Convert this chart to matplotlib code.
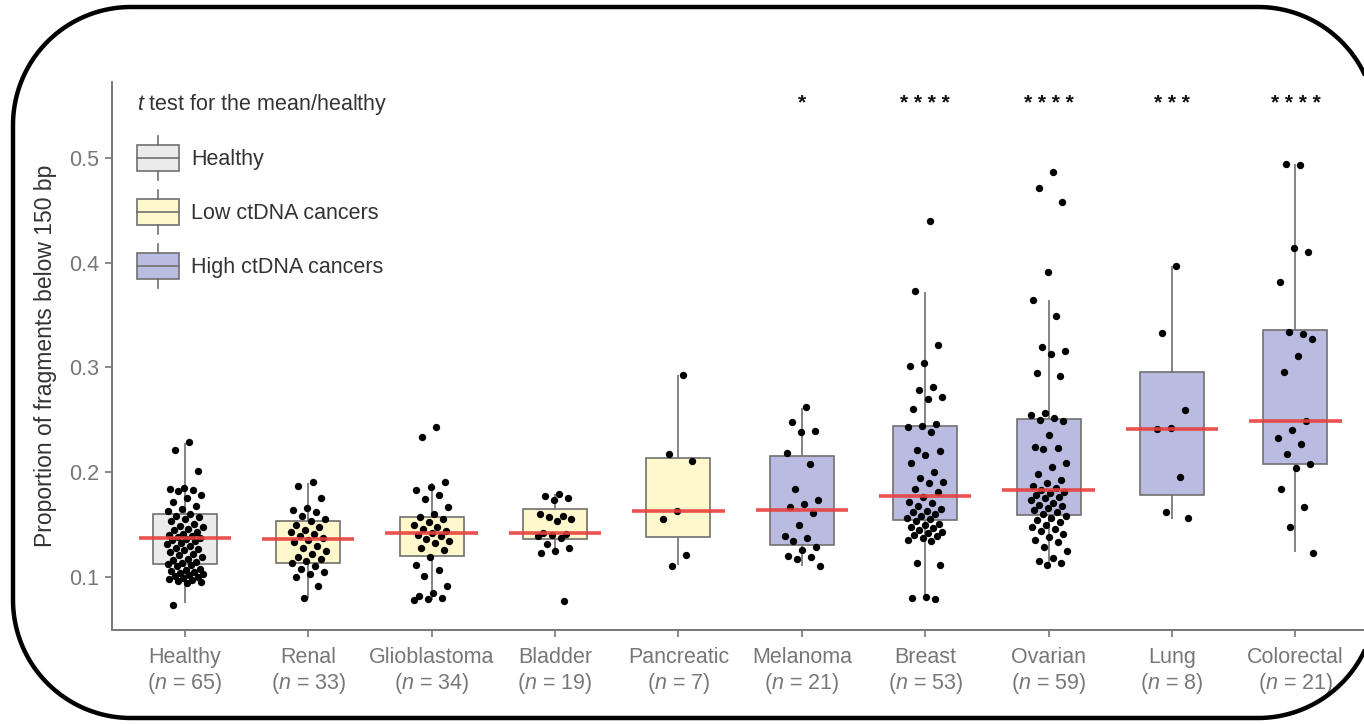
import numpy as np
import matplotlib
matplotlib.use("Agg")
import matplotlib.pyplot as plt
from matplotlib.patches import Rectangle, Polygon
from matplotlib.lines import Line2D
from matplotlib.legend_handler import HandlerBase

plt.rcParams['font.family'] = ['Liberation Sans', 'DejaVu Sans']
plt.rcParams['mathtext.fontset'] = 'custom'
plt.rcParams['mathtext.rm'] = 'Liberation Sans'
plt.rcParams['mathtext.it'] = 'Liberation Sans:italic'

# groups, sample sizes and class (healthy / low / high ctDNA)
names = ["Healthy", "Renal", "Glioblastoma", "Bladder", "Pancreatic",
         "Melanoma", "Breast", "Ovarian", "Lung", "Colorectal"]
n_samples = [65, 33, 34, 19, 7, 21, 53, 59, 8, 21]
group_kind = ["healthy", "low", "low", "low", "low",
              "high", "high", "high", "high", "high"]
stars = ["", "", "", "", "", "*", "****", "****", "***", "****"]

# box statistics
q1 = [0.112, 0.113, 0.120, 0.1365, 0.1385, 0.1305, 0.154, 0.159, 0.178, 0.208]
q3 = [0.160, 0.153, 0.157, 0.165, 0.2136, 0.2155, 0.244, 0.251, 0.2956, 0.336]
whis_lo = [0.075, 0.080, 0.078, 0.123, 0.111, 0.110, 0.078, 0.111, 0.1555, 0.124]
whis_hi = [0.228, 0.190, 0.190, 0.179, 0.293, 0.2615, 0.372, 0.364, 0.397, 0.494]
means = [0.137, 0.136, 0.142, 0.142, 0.1634, 0.164, 0.1773, 0.183, 0.2416, 0.249]

# individual samples (proportion of fragments < 150 bp)
healthy = [0.229, 0.221, 0.201, 0.185, 0.184, 0.183, 0.182, 0.178, 0.175, 0.172,
           0.168, 0.165, 0.163, 0.160, 0.158, 0.157, 0.155, 0.153, 0.151, 0.149,
           0.148, 0.146, 0.145, 0.143, 0.141, 0.140, 0.139, 0.138, 0.137, 0.136,
           0.135, 0.134, 0.132, 0.131, 0.130, 0.128, 0.127, 0.126, 0.124, 0.122,
           0.121, 0.119, 0.117, 0.116, 0.114, 0.113, 0.112, 0.111, 0.110, 0.108,
           0.107, 0.106, 0.105, 0.104, 0.103, 0.102, 0.101, 0.100, 0.099, 0.098,
           0.097, 0.096, 0.095, 0.094, 0.073]
renal = [0.191, 0.187, 0.175, 0.166, 0.164, 0.162, 0.158, 0.155, 0.153, 0.150,
         0.148, 0.145, 0.143, 0.141, 0.139, 0.137, 0.135, 0.133, 0.130, 0.128,
         0.125, 0.122, 0.119, 0.117, 0.115, 0.113, 0.110, 0.108, 0.105, 0.103,
         0.100, 0.091, 0.080]
glioblastoma = [0.243, 0.234, 0.191, 0.186, 0.183, 0.178, 0.174, 0.167, 0.160, 0.157,
                0.155, 0.152, 0.150, 0.148, 0.146, 0.144, 0.142, 0.140, 0.139, 0.136,
                0.134, 0.132, 0.128, 0.126, 0.119, 0.111, 0.107, 0.101, 0.091, 0.085,
                0.082, 0.080, 0.079, 0.078]
bladder = [0.179, 0.177, 0.175, 0.173, 0.160, 0.158, 0.157, 0.155, 0.153, 0.142,
           0.141, 0.140, 0.139, 0.137, 0.131, 0.128, 0.125, 0.123, 0.077]
pancreatic = [0.293, 0.217, 0.211, 0.163, 0.155, 0.121, 0.110]
melanoma = [0.262, 0.248, 0.239, 0.238, 0.218, 0.208, 0.184, 0.173, 0.170, 0.167,
            0.161, 0.150, 0.139, 0.137, 0.134, 0.129, 0.126, 0.120, 0.119, 0.117,
            0.110]
breast = [0.440, 0.373, 0.321, 0.304, 0.301, 0.281, 0.278, 0.272, 0.270, 0.260,
          0.246, 0.244, 0.243, 0.238, 0.221, 0.220, 0.216, 0.209, 0.200, 0.194,
          0.191, 0.190, 0.184, 0.181, 0.176, 0.172, 0.171, 0.168, 0.165, 0.163,
          0.162, 0.160, 0.158, 0.156, 0.155, 0.153, 0.151, 0.150, 0.148, 0.147,
          0.145, 0.143, 0.142, 0.140, 0.139, 0.137, 0.135, 0.134, 0.113, 0.111,
          0.081, 0.080, 0.079]
ovarian = [0.486, 0.471, 0.458, 0.391, 0.364, 0.349, 0.319, 0.316, 0.313, 0.295,
           0.292, 0.256, 0.255, 0.252, 0.250, 0.249, 0.235, 0.224, 0.223, 0.222,
           0.209, 0.205, 0.198, 0.193, 0.190, 0.187, 0.185, 0.183, 0.181, 0.180,
           0.178, 0.176, 0.175, 0.173, 0.171, 0.169, 0.168, 0.166, 0.164, 0.162,
           0.160, 0.158, 0.156, 0.154, 0.152, 0.150, 0.148, 0.146, 0.144, 0.141,
           0.138, 0.135, 0.133, 0.129, 0.125, 0.118, 0.115, 0.113, 0.111]
lung = [0.397, 0.333, 0.259, 0.242, 0.241, 0.195, 0.162, 0.156]
colorectal = [0.493, 0.494, 0.410, 0.414, 0.381, 0.332, 0.334, 0.327, 0.311, 0.296,
              0.249, 0.240, 0.233, 0.227, 0.217, 0.208, 0.204, 0.184, 0.167, 0.148,
              0.123]
samples = [healthy, renal, glioblastoma, bladder, pancreatic,
           melanoma, breast, ovarian, lung, colorectal]

fill = {"healthy": "#ebebeb", "low": "#fff8cc", "high": "#babbe0"}
legend_labels = {"healthy": "Healthy", "low": "Low ctDNA cancers", "high": "High ctDNA cancers"}
edge = "#707070"
red = "#e8403c"
fs = 15.5


class BoxHandler(HandlerBase):
    # little boxplot glyph for the legend
    def create_artists(self, legend, orig_handle, xdescent, ydescent,
                       width, height, fontsize, trans):
        x0, y0 = -xdescent, -ydescent
        fc = orig_handle.get_facecolor()
        box = Rectangle((x0, y0), width, height, facecolor=fc, edgecolor=edge,
                        lw=1.2, transform=trans)
        mid = Line2D([x0, x0 + width], [y0 + height / 2] * 2, color=edge, lw=1.2, transform=trans)
        wt = Line2D([x0 + width / 2] * 2, [y0 + height, y0 + height * 1.35],
                    color=edge, lw=1.2, transform=trans)
        wb = Line2D([x0 + width / 2] * 2, [y0, y0 - height * 0.35],
                    color=edge, lw=1.2, transform=trans)
        return [box, mid, wt, wb]


def rounded_outline(x0, y0, x1, y1, r, n=60):
    # outline of a rounded rectangle in pixel coords (y pointing down)
    pieces = []
    for cx, cy, a0 in [(x0 + r, y0 + r, 180), (x1 - r, y0 + r, 270),
                       (x1 - r, y1 - r, 0), (x0 + r, y1 - r, 90)]:
        th = np.radians(np.linspace(a0, a0 + 90, n))
        pieces.append(np.column_stack([cx + r * np.cos(th), cy + r * np.sin(th)]))
    return np.vstack(pieces)


fig = plt.figure(figsize=(13.64, 7.25), dpi=100)
ax = fig.add_axes([112 / 1364, 95 / 725, 1 - 112 / 1364, 548 / 725])

pos = np.arange(len(names))
box_w = 0.52
line_w = 0.75

for i in pos:
    kind = group_kind[i]
    ax.vlines(i, whis_lo[i], q1[i], color=edge, lw=1.2, zorder=1)
    ax.vlines(i, q3[i], whis_hi[i], color=edge, lw=1.2, zorder=1)
    ax.bar(i, q3[i] - q1[i], bottom=q1[i], width=box_w, color=fill[kind],
           edgecolor=edge, linewidth=1.2, zorder=2)
    ax.hlines(means[i], i - line_w / 2, i + line_w / 2, color=red, lw=2.6,
              alpha=0.9, zorder=4)
    vals = np.array(samples[i])
    # deterministic spread of the points around the category
    k = np.arange(len(vals))
    dx = (((k + 1) * 0.6180339887) % 1 - 0.5) * 0.3
    ax.scatter(i + dx, vals, s=28, color="black", linewidths=0, zorder=3)
    if stars[i]:
        ax.text(i, 0.552, " ".join(stars[i]), ha="center", va="center",
                fontsize=15, color="#111111", fontweight="bold")

ax.set_xlim(-0.59, 9.556)
ax.set_ylim(0.0494, 0.5723)
ax.set_yticks([0.1, 0.2, 0.3, 0.4, 0.5])
ax.set_yticklabels(["0.1", "0.2", "0.3", "0.4", "0.5"])
ax.set_xticks(pos)
ax.set_xticklabels([f"{nm}\n($n$ = {n})" for nm, n in zip(names, n_samples)],
                   linespacing=1.2)
ax.tick_params(axis="both", colors="#777777", labelsize=fs, length=5, width=1.2)
ax.tick_params(axis="x", pad=7)
ax.tick_params(axis="y", pad=4)
for side in ["top", "right"]:
    ax.spines[side].set_visible(False)
for side in ["left", "bottom"]:
    ax.spines[side].set_color("#777777")
    ax.spines[side].set_linewidth(1.4)
ax.set_ylabel("Proportion of fragments below 150 bp", fontsize=16.5, color="#333333")
ax.yaxis.set_label_coords(-0.044, 0.5)

handles = [Rectangle((0, 0), 1, 1, facecolor=fill[k]) for k in ["healthy", "low", "high"]]
leg = ax.legend(handles, [legend_labels[k] for k in ["healthy", "low", "high"]],
                handler_map={Rectangle: BoxHandler()},
                title="$t$ test for the mean/healthy", title_fontsize=fs, fontsize=fs,
                loc="upper left", bbox_to_anchor=(0.0196, 0.982), frameon=False,
                borderpad=0, borderaxespad=0, handlelength=1.95, handleheight=1.48,
                handletextpad=0.6, labelspacing=1.3, alignment="left")
for t in leg.get_texts():
    t.set_color("#333333")
leg.get_title().set_color("#333333")

# rounded frame around the whole picture
frame_ax = fig.add_axes([0, 0, 1, 1], facecolor="none")
frame_ax.set_xlim(0, 1364)
frame_ax.set_ylim(725, 0)
frame_ax.axis("off")
frame_ax.add_patch(Polygon(rounded_outline(13, 7, 1376, 718, 118), closed=True,
                           fill=False, edgecolor="black", linewidth=3.2,
                           joinstyle="round"))

fig.savefig("out.png", dpi=100)
